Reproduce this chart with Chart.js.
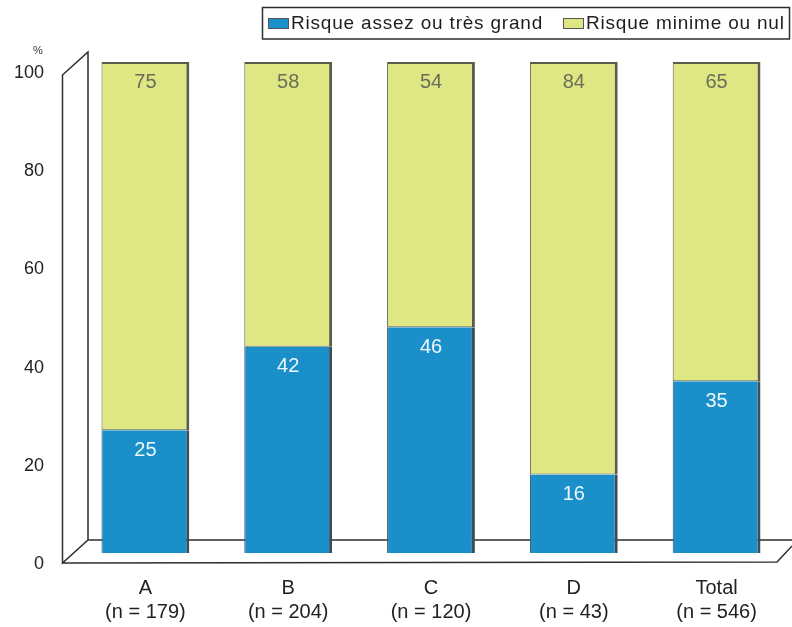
<!DOCTYPE html>
<html>
<head>
<meta charset="utf-8">
<script src="https://cdn.jsdelivr.net/npm/chart.js@4/dist/chart.umd.min.js"></script>
<style>
  html, body { margin: 0; padding: 0; background: #ffffff; }
  #wrap { width: 792px; height: 627px; }
</style>
</head>
<body>
<div id="wrap"><canvas id="chart" width="792" height="627"></canvas></div>
<script>
// Groups and their sample sizes
const categories = ['A', 'B', 'C', 'D', 'Total'];
const sampleSizes = [179, 204, 120, 43, 546];

// Percentages per group
const highRisk = [25, 42, 46, 16, 35];   // Risque assez ou très grand
const lowRisk = [75, 58, 54, 84, 65];    // Risque minime ou nul

const seriesNames = ['Risque assez ou très grand', 'Risque minime ou nul'];
const yTickValues = [0, 20, 40, 60, 80, 100];

const BLUE = '#1a8fc9';
const YELLOW = '#dfe684';
const FONT = '"Liberation Sans", Arial, sans-serif';

const xLabels = categories.map((c, i) => [c, '(n = ' + sampleSizes[i] + ')']);

// Pseudo-3D wall and floor behind the bars
const wallPlugin = {
  id: 'wall',
  beforeDatasetsDraw(chart) {
    const { ctx, chartArea, scales } = chart;
    const y = scales.y;
    const L = chartArea.left;
    const y0 = y.getPixelForValue(0);
    const y100 = y.getPixelForValue(100);
    const backX = L + 14, frontX = L - 11.5;
    const backBottom = y0 - 13, frontBottom = y0 + 10;
    const backTop = y100 - 10, frontTop = y100 + 13;
    const W = chart.width;
    ctx.save();
    ctx.strokeStyle = '#2e2e2e';
    ctx.lineWidth = 1.5;
    ctx.beginPath();
    // left wall
    ctx.moveTo(backX, backBottom);
    ctx.lineTo(backX, backTop);
    ctx.lineTo(frontX, frontTop);
    ctx.lineTo(frontX, frontBottom);
    ctx.lineTo(backX, backBottom);
    // floor back edge
    ctx.lineTo(W, backBottom);
    // floor front edge
    ctx.moveTo(frontX, frontBottom);
    ctx.lineTo(777, frontBottom - 1);
    ctx.lineTo(W, backBottom + 6);
    ctx.stroke();
    // unit marker
    ctx.fillStyle = '#333';
    ctx.font = '11px ' + FONT;
    ctx.textAlign = 'center';
    ctx.textBaseline = 'middle';
    ctx.fillText('%', 38, 51);
    ctx.restore();
  }
};

// Values printed at the top of each segment
const valuePlugin = {
  id: 'values',
  afterDatasetsDraw(chart) {
    const { ctx } = chart;
    ctx.save();
    ctx.font = '20px ' + FONT;
    ctx.textAlign = 'center';
    ctx.textBaseline = 'middle';
    chart.data.datasets.forEach((ds, di) => {
      const meta = chart.getDatasetMeta(di);
      ctx.fillStyle = di === 0 ? '#eef7fb' : '#6a6d58';
      meta.data.forEach((el, i) => {
        ctx.fillText(String(ds.data[i]), el.x, el.y + 20);
      });
    });
    ctx.restore();
  }
};

// Framed legend in the top right corner
const legendPlugin = {
  id: 'framedLegend',
  afterDraw(chart) {
    const { ctx } = chart;
    const ds = chart.data.datasets;
    ctx.save();
    ctx.strokeStyle = '#2e2e2e';
    ctx.lineWidth = 1.5;
    ctx.strokeRect(262.5, 7.5, 527, 31.5);
    ctx.font = '19px ' + FONT;
    if ('letterSpacing' in ctx) ctx.letterSpacing = '0.8px';
    ctx.textBaseline = 'middle';
    ctx.textAlign = 'left';
    const items = [
      { sx: 268, tx: 291 },
      { sx: 563, tx: 586 }
    ];
    items.forEach((it, i) => {
      ctx.fillStyle = ds[i].backgroundColor;
      ctx.fillRect(it.sx, 18, 20, 10);
      ctx.lineWidth = 1;
      ctx.strokeStyle = '#555';
      ctx.strokeRect(it.sx + 0.5, 18.5, 20, 10);
      ctx.fillStyle = '#1e1e1e';
      ctx.fillText(seriesNames[i], it.tx, 24);
    });
    ctx.restore();
  }
};

new Chart(document.getElementById('chart'), {
  type: 'bar',
  data: {
    labels: xLabels,
    datasets: [
      {
        label: seriesNames[0],
        data: highRisk,
        backgroundColor: BLUE,
        borderColor: '#3d4d55',
        borderWidth: { top: 0, right: 3, bottom: 0, left: 1 },
        borderSkipped: false
      },
      {
        label: seriesNames[1],
        data: lowRisk,
        backgroundColor: YELLOW,
        borderColor: '#5a5c4a',
        borderWidth: { top: 2, right: 3, bottom: 1, left: 1 },
        borderSkipped: false
      }
    ]
  },
  options: {
    responsive: false,
    animation: false,
    devicePixelRatio: 1,
    layout: { padding: { left: 14, right: 4, top: 62, bottom: 3 } },
    plugins: {
      legend: { display: false },
      tooltip: { enabled: false }
    },
    datasets: {
      bar: { categoryPercentage: 1, barPercentage: 0.615 }
    },
    scales: {
      x: {
        stacked: true,
        afterFit(scale) { scale.height = 71; },
        grid: { display: false, drawTicks: false },
        border: { display: false },
        ticks: {
          padding: 23,
          color: '#222',
          font: { family: FONT, size: 20 },
          maxRotation: 0
        }
      },
      y: {
        stacked: true,
        min: 0,
        max: 100,
        afterBuildTicks(scale) {
          scale.ticks = yTickValues.map(v => ({ value: v }));
        },
        afterFit(scale) { scale.width = 60; },
        grid: { display: false, drawTicks: false },
        border: { display: false },
        ticks: {
          padding: 30,
          labelOffset: 11,
          color: '#222',
          font: { family: FONT, size: 18 }
        }
      }
    }
  },
  plugins: [wallPlugin, valuePlugin, legendPlugin]
});
</script>
</body>
</html>
